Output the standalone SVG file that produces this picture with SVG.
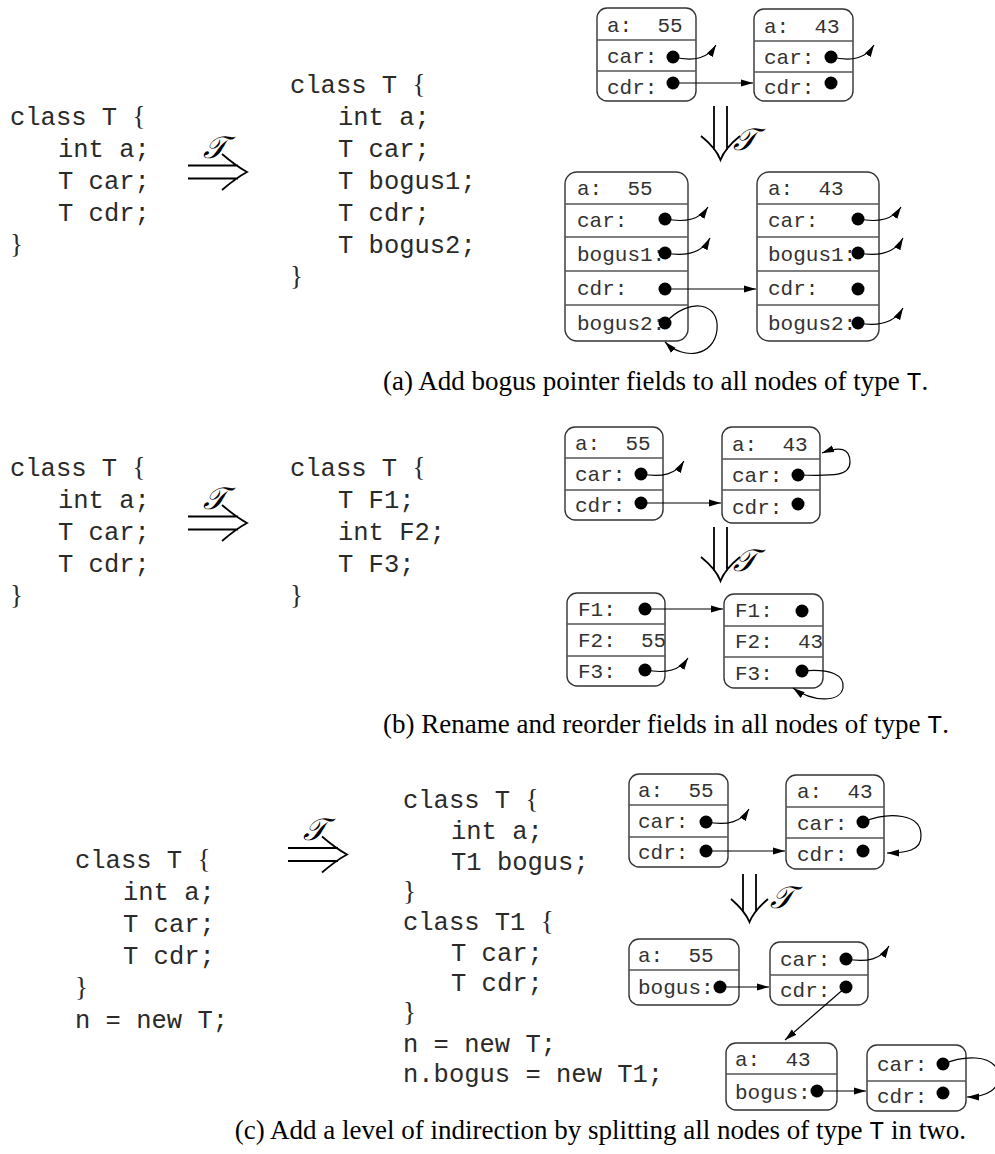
<svg xmlns="http://www.w3.org/2000/svg" width="995" height="1154" viewBox="0 0 995 1154">
<style>
.code{font-family:"Liberation Mono",monospace;font-size:25.5px;fill:#2a2a2a}
.br{font-family:"Liberation Serif",serif;font-size:27px}
.nt{font-family:"Liberation Mono",monospace;font-size:21px;fill:#333}
.box{fill:#fff;stroke:#333;stroke-width:1.4}
.dv{stroke:#555;stroke-width:1.3}
.dot{fill:#000}
.ptr{fill:none;stroke:#000;stroke-width:1.2;marker-end:url(#ah)}
.sym{fill:none;stroke:#000;stroke-width:1.8}
.cal{font-family:"DejaVu Serif","DejaVu Sans",serif;font-style:italic;font-size:31px;fill:#000}
.cap{font-family:"Liberation Serif",serif;font-size:27px;fill:#000}
.capm{font-family:"Liberation Mono",monospace;font-size:25px}
</style>
<defs>
<marker id="ah" viewBox="0 0 12 8" refX="12" refY="4" markerWidth="12" markerHeight="8" markerUnits="userSpaceOnUse" orient="auto">
<path d="M0,0.5 L12,4 L0,7.5 z" fill="#000"/>
</marker>
</defs>

<!-- ===== (a) ===== -->
<g id="a-code-src" class="code">
<text x="10" y="125">class T <tspan class="br">{</tspan></text>
<text x="58" y="157">int a;</text>
<text x="58" y="189">T car;</text>
<text x="58" y="221">T cdr;</text>
<text x="10" y="253" class="br">}</text>
</g>
<g id="a-transform">
<path class="sym" d="M188,165.5 H238 M188,178.5 H238 M222,154 Q236,166 247,172 Q236,178 222,190"/>
<text class="cal" x="203" y="158">𝒯</text>
</g>
<g id="a-code-dst" class="code">
<text x="290" y="93">class T <tspan class="br">{</tspan></text>
<text x="338" y="125">int a;</text>
<text x="338" y="157">T car;</text>
<text x="338" y="189">T bogus1;</text>
<text x="338" y="221">T cdr;</text>
<text x="338" y="253">T bogus2;</text>
<text x="290" y="285" class="br">}</text>
</g>

<g id="a-n1">
<rect class="box" x="597" y="8" width="99" height="93" rx="10"/>
<line class="dv" x1="597" y1="40" x2="696" y2="40"/>
<line class="dv" x1="597" y1="71" x2="696" y2="71"/>
<text class="nt" x="607" y="32" xml:space="preserve">a:  55</text>
<text class="nt" x="607" y="63">car:</text>
<text class="nt" x="607" y="94">cdr:</text>
<circle class="dot" cx="673" cy="57" r="6.5"/>
<circle class="dot" cx="673" cy="83" r="6.5"/>
</g>
<g id="a-n2">
<rect class="box" x="754" y="9" width="99" height="92" rx="10"/>
<line class="dv" x1="754" y1="41" x2="853" y2="41"/>
<line class="dv" x1="754" y1="72" x2="853" y2="72"/>
<text class="nt" x="764" y="33" xml:space="preserve">a:  43</text>
<text class="nt" x="764" y="64">car:</text>
<text class="nt" x="764" y="94">cdr:</text>
<circle class="dot" cx="831" cy="57" r="6.5"/>
<circle class="dot" cx="831" cy="83" r="6.5"/>
</g>
<g id="a-down">
<path class="sym" d="M714,106 V150 M727,106 V150 M701,136 Q716,148 720.5,160 Q725,148 740,136"/>
<text class="cal" x="733" y="150">𝒯</text>
</g>
<g id="a-n3">
<rect class="box" x="565" y="172" width="123" height="169" rx="12"/>
<line class="dv" x1="565" y1="204" x2="688" y2="204"/>
<line class="dv" x1="565" y1="237" x2="688" y2="237"/>
<line class="dv" x1="565" y1="271" x2="688" y2="271"/>
<line class="dv" x1="565" y1="305" x2="688" y2="305"/>
<text class="nt" x="577" y="195" xml:space="preserve">a:  55</text>
<text class="nt" x="577" y="227">car:</text>
<text class="nt" x="577" y="261">bogus1:</text>
<text class="nt" x="577" y="295">cdr:</text>
<text class="nt" x="577" y="330">bogus2:</text>
<circle class="dot" cx="665" cy="219" r="6.5"/>
<circle class="dot" cx="665" cy="253" r="6.5"/>
<circle class="dot" cx="665" cy="289" r="6.5"/>
<circle class="dot" cx="665" cy="323" r="6.5"/>
</g>
<g id="a-n4">
<rect class="box" x="757" y="172" width="122" height="169" rx="12"/>
<line class="dv" x1="757" y1="204" x2="879" y2="204"/>
<line class="dv" x1="757" y1="237" x2="879" y2="237"/>
<line class="dv" x1="757" y1="271" x2="879" y2="271"/>
<line class="dv" x1="757" y1="305" x2="879" y2="305"/>
<text class="nt" x="768" y="195" xml:space="preserve">a:  43</text>
<text class="nt" x="768" y="227">car:</text>
<text class="nt" x="768" y="261">bogus1:</text>
<text class="nt" x="768" y="295">cdr:</text>
<text class="nt" x="768" y="330">bogus2:</text>
<circle class="dot" cx="858" cy="219" r="6.5"/>
<circle class="dot" cx="858" cy="253" r="6.5"/>
<circle class="dot" cx="858" cy="289" r="6.5"/>
<circle class="dot" cx="858" cy="323" r="6.5"/>
</g>
<text class="cap" x="383" y="390">(a) Add bogus pointer fields to all nodes of type <tspan class="capm">T</tspan>.</text>

<!-- ===== (b) ===== -->
<g id="b-code-src" class="code">
<text x="10" y="476">class T <tspan class="br">{</tspan></text>
<text x="58" y="508">int a;</text>
<text x="58" y="540">T car;</text>
<text x="58" y="572">T cdr;</text>
<text x="10" y="604" class="br">}</text>
</g>
<g id="b-transform">
<path class="sym" d="M188,516.5 H238 M188,529.5 H238 M222,505 Q236,517 247,523 Q236,529 222,541"/>
<text class="cal" x="203" y="509">𝒯</text>
</g>
<g id="b-code-dst" class="code">
<text x="290" y="476">class T <tspan class="br">{</tspan></text>
<text x="338" y="508">T F1;</text>
<text x="338" y="540">int F2;</text>
<text x="338" y="572">T F3;</text>
<text x="290" y="604" class="br">}</text>
</g>
<g id="b-n1">
<rect class="box" x="565" y="427" width="98" height="93" rx="10"/>
<line class="dv" x1="565" y1="458" x2="663" y2="458"/>
<line class="dv" x1="565" y1="490" x2="663" y2="490"/>
<text class="nt" x="575" y="450" xml:space="preserve">a:  55</text>
<text class="nt" x="575" y="481">car:</text>
<text class="nt" x="575" y="512">cdr:</text>
<circle class="dot" cx="641" cy="474" r="6.5"/>
<circle class="dot" cx="641" cy="503" r="6.5"/>
</g>
<g id="b-n2">
<rect class="box" x="722" y="427" width="98" height="96" rx="10"/>
<line class="dv" x1="722" y1="459" x2="820" y2="459"/>
<line class="dv" x1="722" y1="490" x2="820" y2="490"/>
<text class="nt" x="732" y="451" xml:space="preserve">a:  43</text>
<text class="nt" x="732" y="482">car:</text>
<text class="nt" x="732" y="514">cdr:</text>
<circle class="dot" cx="798" cy="475" r="6.5"/>
<circle class="dot" cx="798" cy="504" r="6.5"/>
</g>
<g id="b-down">
<path class="sym" d="M714,527 V571 M727,527 V571 M701,557 Q716,569 720.5,581 Q725,569 740,557"/>
<text class="cal" x="733" y="571">𝒯</text>
</g>
<g id="b-n3">
<rect class="box" x="567" y="593" width="98" height="93" rx="10"/>
<line class="dv" x1="567" y1="624" x2="665" y2="624"/>
<line class="dv" x1="567" y1="656" x2="665" y2="656"/>
<text class="nt" x="578" y="616">F1:</text>
<text class="nt" x="578" y="647" xml:space="preserve">F2:  55</text>
<text class="nt" x="578" y="678">F3:</text>
<circle class="dot" cx="645" cy="609" r="6.5"/>
<circle class="dot" cx="645" cy="670" r="6.5"/>
</g>
<g id="b-n4">
<rect class="box" x="724" y="594" width="99" height="94" rx="10"/>
<line class="dv" x1="724" y1="626" x2="823" y2="626"/>
<line class="dv" x1="724" y1="657" x2="823" y2="657"/>
<text class="nt" x="735" y="617">F1:</text>
<text class="nt" x="735" y="648" xml:space="preserve">F2:  43</text>
<text class="nt" x="735" y="680">F3:</text>
<circle class="dot" cx="802" cy="611" r="6.5"/>
<circle class="dot" cx="802" cy="671" r="6.5"/>
</g>
<text class="cap" x="383" y="733">(b) Rename and reorder fields in all nodes of type <tspan class="capm">T</tspan>.</text>

<!-- ===== (c) ===== -->
<g id="c-code-src" class="code">
<text x="75" y="868">class T <tspan class="br">{</tspan></text>
<text x="123" y="900">int a;</text>
<text x="123" y="932">T car;</text>
<text x="123" y="964">T cdr;</text>
<text x="75" y="996" class="br">}</text>
<text x="75" y="1028">n = new T;</text>
</g>
<g id="c-transform">
<path class="sym" d="M288,848 H338 M288,861 H338 M322,836.5 Q336,848.5 347,854.5 Q336,860.5 322,872.5"/>
<text class="cal" x="303" y="840">𝒯</text>
</g>
<g id="c-code-dst" class="code">
<text x="403" y="808">class T <tspan class="br">{</tspan></text>
<text x="451" y="839">int a;</text>
<text x="451" y="870">T1 bogus;</text>
<text x="403" y="900" class="br">}</text>
<text x="403" y="930">class T1 <tspan class="br">{</tspan></text>
<text x="451" y="961">T car;</text>
<text x="451" y="991">T cdr;</text>
<text x="403" y="1021" class="br">}</text>
<text x="403" y="1052">n = new T;</text>
<text x="403" y="1082">n.bogus = new T1;</text>
</g>
<g id="c-n1">
<rect class="box" x="629" y="774" width="99" height="93" rx="10"/>
<line class="dv" x1="629" y1="805" x2="728" y2="805"/>
<line class="dv" x1="629" y1="837" x2="728" y2="837"/>
<text class="nt" x="638" y="797" xml:space="preserve">a:  55</text>
<text class="nt" x="638" y="828">car:</text>
<text class="nt" x="638" y="859">cdr:</text>
<circle class="dot" cx="706" cy="822" r="6.5"/>
<circle class="dot" cx="706" cy="851" r="6.5"/>
</g>
<g id="c-n2">
<rect class="box" x="786" y="775" width="98" height="94" rx="10"/>
<line class="dv" x1="786" y1="807" x2="884" y2="807"/>
<line class="dv" x1="786" y1="838" x2="884" y2="838"/>
<text class="nt" x="797" y="798" xml:space="preserve">a:  43</text>
<text class="nt" x="797" y="830">car:</text>
<text class="nt" x="797" y="861">cdr:</text>
<circle class="dot" cx="863" cy="822" r="6.5"/>
<circle class="dot" cx="863" cy="851" r="6.5"/>
</g>
<g id="c-down">
<path class="sym" d="M743,874 V912 M756,874 V912 M731,899 Q745,911 749.5,922 Q754,911 768,899"/>
<text class="cal" x="770" y="908">𝒯</text>
</g>
<g id="c-n3">
<rect class="box" x="629" y="939" width="110" height="66" rx="10"/>
<line class="dv" x1="629" y1="970" x2="739" y2="970"/>
<text class="nt" x="638" y="962" xml:space="preserve">a:  55</text>
<text class="nt" x="638" y="994">bogus:</text>
<circle class="dot" cx="720" cy="987" r="6.5"/>
</g>
<g id="c-n4">
<rect class="box" x="770" y="942" width="98" height="63" rx="10"/>
<line class="dv" x1="770" y1="975" x2="868" y2="975"/>
<text class="nt" x="780" y="966">car:</text>
<text class="nt" x="780" y="997">cdr:</text>
<circle class="dot" cx="846" cy="959" r="6.5"/>
<circle class="dot" cx="846" cy="987" r="6.5"/>
</g>
<g id="c-n5">
<rect class="box" x="726" y="1043" width="111" height="67" rx="10"/>
<line class="dv" x1="726" y1="1074" x2="837" y2="1074"/>
<text class="nt" x="735" y="1066" xml:space="preserve">a:  43</text>
<text class="nt" x="735" y="1099">bogus:</text>
<circle class="dot" cx="817" cy="1091" r="6.5"/>
</g>
<g id="c-n6">
<rect class="box" x="867" y="1045" width="99" height="66" rx="10"/>
<line class="dv" x1="867" y1="1081" x2="966" y2="1081"/>
<text class="nt" x="877" y="1071">car:</text>
<text class="nt" x="877" y="1103">cdr:</text>
<circle class="dot" cx="943" cy="1064" r="6.5"/>
<circle class="dot" cx="943" cy="1093" r="6.5"/>
</g>
<text class="cap" x="966" y="1139" text-anchor="end">(c) Add a level of indirection by splitting all nodes of type <tspan class="capm">T</tspan> in two.</text>

<!-- ===== connectors ===== -->
<g id="connectors">
<path class="ptr" d="M673,57 C695,62 708,58 716,45"/>
<path class="ptr" d="M831,57 C853,62 866,58 874,45"/>
<path class="ptr" d="M673,83 L753,83"/>
<path class="ptr" d="M665,219 C687,223 700,219 708,207"/>
<path class="ptr" d="M665,253 C687,257 702,253 710,238"/>
<path class="ptr" d="M665,289 L756,289"/>
<path class="ptr" d="M665,323 C690,296 720,303 717,330 C714,356 684,361 665,342"/>
<path class="ptr" d="M858,219 C880,223 893,219 901,207"/>
<path class="ptr" d="M858,253 C880,257 895,253 903,238"/>
<path class="ptr" d="M858,323 C880,327 895,322 903,308"/>
<path class="ptr" d="M641,474 C663,478 676,474 684,461"/>
<path class="ptr" d="M641,503 L721,503"/>
<path class="ptr" d="M798,475 C835,476 850,476 850,462 C850,448 840,446 822,453"/>
<path class="ptr" d="M645,609 L723,609"/>
<path class="ptr" d="M645,670 C667,674 680,670 688,658"/>
<path class="ptr" d="M802,671 C830,668 845,675 843,688 C840,703 812,702 793,688"/>
<path class="ptr" d="M706,822 C728,826 741,822 749,809"/>
<path class="ptr" d="M706,851 L785,851"/>
<path class="ptr" d="M863,822 C890,811 921,814 921,835 C922,851 905,853 887,853"/>
<path class="ptr" d="M720,987 L769,987"/>
<path class="ptr" d="M846,959 C868,963 881,959 889,946"/>
<path class="ptr" d="M846,987 L785,1040"/>
<path class="ptr" d="M817,1091 L866,1091"/>
<path class="ptr" d="M943,1064 C965,1055 990,1055 998,1070 C1003,1090 985,1097 967,1097"/>
</g>
</svg>
